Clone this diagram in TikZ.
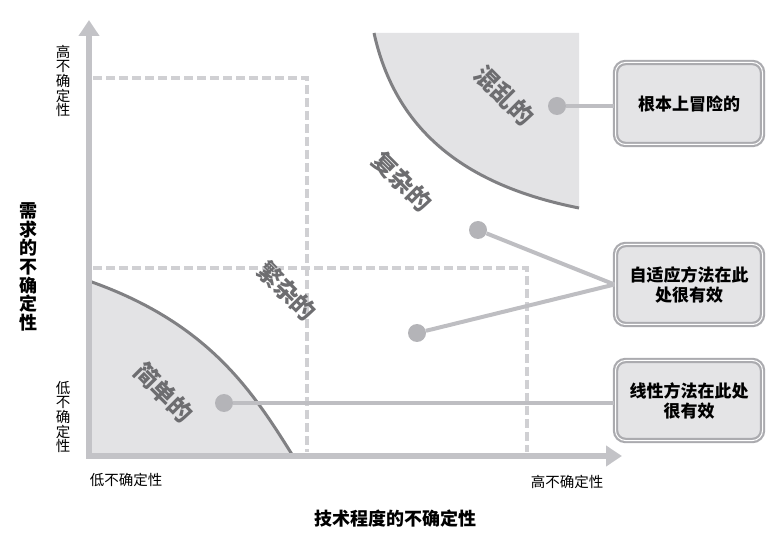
\documentclass[tikz,border=0pt]{standalone}
\usepackage{fontspec}
\setmainfont{Noto Sans CJK SC}
\usepackage{tikz}
\usetikzlibrary{arrows.meta,positioning,calc}
\definecolor{axisgray}{HTML}{C3C3C7}
\definecolor{dashgray}{HTML}{D0D0D3}
\definecolor{zonefill}{HTML}{E3E3E5}
\definecolor{rimgray}{HTML}{808083}
\definecolor{spotgray}{HTML}{B4B4B8}
\definecolor{linkgray}{HTML}{BEBEC2}
\definecolor{boxedge}{HTML}{ABABAF}
\definecolor{boxfill}{HTML}{E4E4E6}
\definecolor{labgray}{HTML}{6D6D70}
\tikzset{
  zone/.style ={fill=zonefill, draw=none},
  rim/.style  ={draw=rimgray, line width=3pt},
  ax/.style   ={draw=axisgray, line width=6pt, line cap=rect,
                -{Triangle[length=16pt,width=20pt]}},
  dsh/.style  ={draw=dashgray, line width=4.5pt, dash pattern=on 9pt off 4pt},
  spot/.style ={circle, fill=spotgray, inner sep=0pt, minimum size=18pt},
  ln/.style   ={draw=linkgray, line width=4pt},
  box/.style  ={draw=boxedge, line width=2.2pt, double=white, double distance=1pt,
                fill=boxfill, rounded corners=10pt, align=center, inner sep=2pt,
                minimum width=147pt, minimum height=80pt,
                font=\fontsize{17}{20}\selectfont\bfseries},
  reg/.style  ={font=\fontsize{24}{24}\selectfont\bfseries, text=labgray,
                rotate=-45, inner sep=0pt},
  w/.style    ={font=\fontsize{14.5}{14.6}\selectfont, align=center, inner sep=0pt},
  ttl/.style  ={font=\fontsize{18}{18.7}\selectfont\bfseries, align=center, inner sep=0pt},
}

\begin{document}
\begin{tikzpicture}[x=1pt,y=1pt]
  \useasboundingbox (0,0) rectangle (784,533);

  % the two shaded corners
  \fill[zone] (374,500) .. controls (396,400) and (468,347) .. (579,325) -- (579,500) -- cycle;
  \fill[zone] (89,77) -- (89,252) .. controls (209,210) and (253,141) .. (293,77) -- cycle;

  % dashed bounds
  \draw[dsh] (93,455) -| (307,81);
  \draw[dsh] (93,265) -| (527,81);

  \draw[rim] (374,500) .. controls (396,400) and (468,347) .. (579,325);
  \draw[rim] (89,252) .. controls (209,210) and (253,141) .. (293,77);

  % axes
  \coordinate (o)    at (89,77);
  \coordinate (ytip) at (89,513);
  \coordinate (xtip) at (622,77);
  \draw[ax] (o) -- (ytip);
  \draw[ax] (o) -- (xtip);

  % points and callouts
  \node[spot] (chaosdot) at (557,427) {};
  \node[spot] (cplxdot)  at (478,303) {};
  \node[spot] (cpctdot)  at (417,200) {};
  \node[spot] (simpdot)  at (224,130) {};

  \node[box, minimum height=82pt] (risky) at (689,429.5) {根本上冒险的};
  \node[box] (adapt)  at (689,248.5) {自适应方法在此\\处很有效};
  \node[box] (linear) at (689,132.5) {线性方法在此处\\很有效};

  \draw[ln] (chaosdot) -- (chaosdot -| risky.west);
  \draw[ln] (cplxdot) -- (adapt.west);
  \draw[ln] (cpctdot) -- (adapt.west);
  \draw[ln] (simpdot) -- (simpdot -| linear.west);

  % region names
  \node[reg] (chaos)  at (504,437) {混乱的};
  \node[reg] (cplx)   at (402,351) {复杂的};
  \node[reg] (cpct)   at (287,242) {繁杂的};
  \node[reg] (simple) at (164,141) {简单的};

  % axis labels
  \node[w] (yhigh) at (63,452) {高\\不\\确\\定\\性};
  \node[w] (ylow)  at (63,116) {低\\不\\确\\定\\性};
  \node[w] (xlow)  at (126,53) {低不确定性};
  \node[w] (xhigh) at (567,51) {高不确定性};
  \node[ttl] (xtitle) at (395,14)  {技术程度的不确定性};
  \node[ttl] (ytitle) at (28,266)  {需\\求\\的\\不\\确\\定\\性};
\end{tikzpicture}
\end{document}
